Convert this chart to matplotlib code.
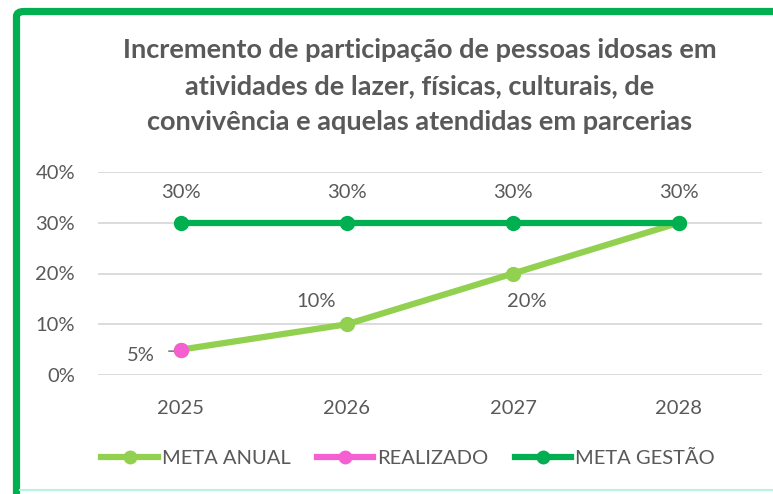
import matplotlib
matplotlib.use("Agg")
import matplotlib.pyplot as plt
import numpy as np
from matplotlib.lines import Line2D
from matplotlib.patches import FancyBboxPatch

years = ["2025", "2026", "2027", "2028"]
meta_anual = [0.05, 0.10, 0.20, 0.30]
realizado = [0.05, np.nan, np.nan, np.nan]
meta_gestao = [0.30, 0.30, 0.30, 0.30]
yticks = [0.0, 0.1, 0.2, 0.3, 0.4]
title = ("Incremento de participação de pessoas idosas em\n"
         "atividades de lazer, físicas, culturais, de\n"
         "convivência e aquelas atendidas em parcerias")

C_ANUAL = "#92D050"
C_REAL = "#F55FD2"
C_GEST = "#00B050"
GRAY = "#595959"

plt.rcParams['font.family'] = ['Lato', 'DejaVu Sans']

W, H = 773, 494
fig = plt.figure(figsize=(W / 100, H / 100), dpi=100)

# frame
bg = FancyBboxPatch((16.5 / W, -0.2), 1.2, 1.0,
                    boxstyle="round,pad=0,rounding_size=0.01",
                    transform=fig.transFigure, facecolor="none",
                    edgecolor=C_GEST, linewidth=5.2, zorder=0)
bg.set_bounds(16.5 / W, -0.2, 1.2, 1 - 11.5 / H + 0.2)
fig.patches.append(bg)
fig.add_artist(Line2D([20 / W, 1], [1 - 489.5 / H] * 2, transform=fig.transFigure,
                      color="#B8F2E2", linewidth=1.5))

x = np.arange(len(years))
ax = fig.add_axes([98 / W, 1 - 375 / H, 664 / W, 203 / H])
ax.set_xlim(-0.5, len(years) - 0.5)
ax.set_ylim(0, 0.4)
ax.set_yticks(yticks)
ax.set_yticklabels([f"{int(round(v * 100))}%" for v in yticks])
ax.set_xticks(x)
ax.set_xticklabels(years)
for s in ax.spines.values():
    s.set_visible(False)
ax.tick_params(length=0, labelsize=14.5, colors=GRAY)
ax.tick_params(axis='y', pad=16.5)
ax.tick_params(axis='x', pad=18)
ax.grid(axis='y', color="#D9D9D9", linewidth=1.3)
ax.set_axisbelow(True)

ax.plot(x, meta_anual, color=C_ANUAL, lw=4.5, marker="o", ms=10,
        solid_capstyle="round", zorder=3, label="META ANUAL")
ax.plot(x, meta_gestao, color=C_GEST, lw=4.5, marker="o", ms=10,
        solid_capstyle="round", zorder=4, label="META GESTÃO")
ax.plot(x, realizado, color=C_REAL, lw=4.5, marker="o", ms=10,
        zorder=5, label="REALIZADO")

lab_kw = dict(fontsize=14.5, color=GRAY, ha="center", va="center")
for i, v in enumerate(meta_gestao):
    ax.annotate(f"{int(round(v * 100))}%", (x[i], v), xytext=(0, 22),
                textcoords="offset points", **lab_kw)
ax.annotate(f"{int(round(meta_anual[1] * 100))}%", (x[1], meta_anual[1]),
            xytext=(-22.5, 16.5), textcoords="offset points", **lab_kw)
ax.annotate(f"{int(round(meta_anual[2] * 100))}%", (x[2], meta_anual[2]),
            xytext=(10, -20), textcoords="offset points", **lab_kw)
ax.annotate(f"{int(round(realizado[0] * 100))}%", (x[0], realizado[0]),
            xytext=(-29, -4), textcoords="offset points", **lab_kw)
ax.annotate("", (x[0] - 0.02, realizado[0] - 0.003), xytext=(x[0] - 0.09, realizado[0] - 0.003),
            arrowprops=dict(arrowstyle="-", color="#7F7F7F", lw=1.2))

fig.suptitle(title, x=420 / W, y=1 - 38 / H, fontsize=19.5, fontweight="bold",
             color=GRAY, linespacing=1.6, va="top")

handles = [
    Line2D([], [], color=C_ANUAL, lw=4.5, marker="o", ms=9),
    Line2D([], [], color=C_REAL, lw=4.5, marker="o", ms=9),
    Line2D([], [], color=C_GEST, lw=4.5, marker="o", ms=9),
]
fig.legend(handles, ["META ANUAL", "REALIZADO", "META GESTÃO"],
           loc="center", bbox_to_anchor=(408 / W, 1 - 458 / H), ncol=3,
           frameon=False, fontsize=14.5, labelcolor=GRAY, handlelength=2.8,
           handletextpad=0.2, columnspacing=1.3)

fig.savefig("out.png", dpi=100, facecolor="white")
